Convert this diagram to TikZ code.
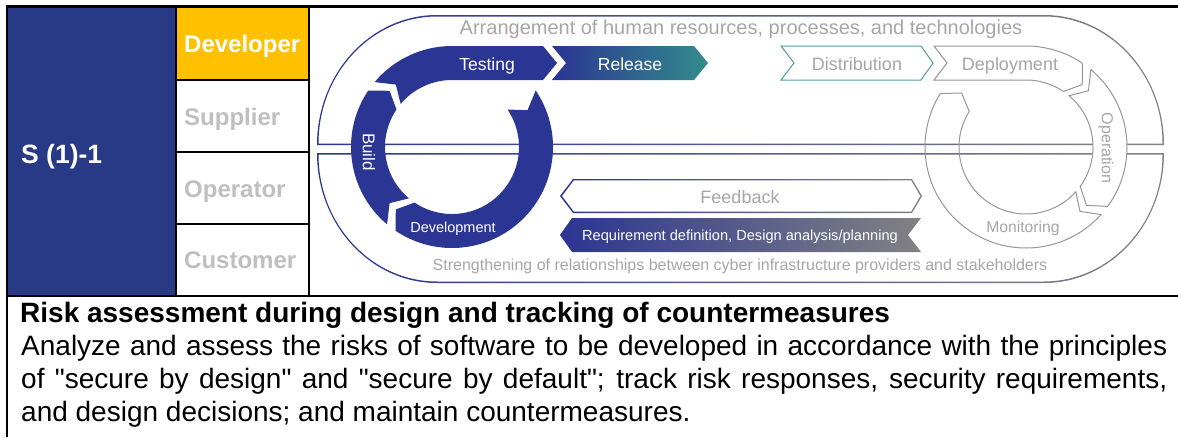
\documentclass[tikz,border=0pt]{standalone}
\usepackage{fontspec}
\setmainfont{Liberation Sans}[Ligatures=TeXOff]
\definecolor{cellnavy}{RGB}{40,57,133}
\definecolor{roleyellow}{RGB}{255,192,0}
\definecolor{ringblue}{RGB}{43,53,147}
\definecolor{ringteal}{RGB}{50,140,140}
\definecolor{ringgrey}{RGB}{130,130,130}
\definecolor{labelgrey}{RGB}{166,166,166}
\definecolor{rolegrey}{RGB}{191,191,191}
\definecolor{outlinegrey}{RGB}{150,150,150}

\begin{document}
\begin{tikzpicture}[x=1pt,y=-1pt,
    every node/.style={inner sep=0pt},
    tableline/.style={line width=2.6pt},
    rolelabel/.style={anchor=base west,font=\fontsize{24}{28}\selectfont\bfseries,text=rolegrey},
    greyband/.style={draw=outlinegrey,line width=1pt},
    bandtext/.style={anchor=base,font=\fontsize{17.5}{20}\selectfont,text=white},
    greytext/.style={anchor=base,font=\fontsize{18}{20}\selectfont,text=labelgrey}]
  \useasboundingbox (0,0) rectangle (1178,437);

  % table cells
  \fill[cellnavy] (7,7) rectangle (176,296);
  \fill[roleyellow] (176,7) rectangle (309,80);
  \node[anchor=base west,text=white,font=\fontsize{26.5}{30}\selectfont\bfseries] (sid) at (21,163) {S (1)-1};
  \node[rolelabel,text=white] (developer) at (184,52) {Developer};
  \node[rolelabel] (supplier) at (184,125) {Supplier};
  \node[rolelabel] (operator) at (184,197) {Operator};
  \node[rolelabel] (customer) at (184,268) {Customer};

  % outer loop, upper and lower halves
  \shade[even odd rule,left color=ringblue,middle color=ringteal,right color=ringgrey]
    (317,145) arc[start angle=180,end angle=270,x radius=120,y radius=130] -- (1044,15)
      arc[start angle=270,end angle=360,x radius=120,y radius=130] -- cycle
    (318.5,143.5) arc[start angle=180,end angle=270,x radius=118.5,y radius=127] -- (1044,16.5)
      arc[start angle=270,end angle=360,x radius=118.5,y radius=127] -- cycle;
  \shade[even odd rule,left color=ringblue,middle color=ringteal,right color=ringgrey]
    (317,153) arc[start angle=180,end angle=90,x radius=120,y radius=130] -- (1044,283)
      arc[start angle=90,end angle=0,x radius=120,y radius=130] -- cycle
    (318.5,154.5) arc[start angle=180,end angle=90,x radius=118.5,y radius=127] -- (1044,281.5)
      arc[start angle=90,end angle=0,x radius=118.5,y radius=127] -- cycle;
  \node[greytext,font=\fontsize{20}{22}\selectfont] (arrangement) at (741,34) {Arrangement of human resources, processes, and technologies};
  \node[greytext,font=\fontsize{16}{18}\selectfont] (strengthening) at (740,270) {Strengthening of relationships between cyber infrastructure providers and stakeholders};

  % development cycle
  \begin{scope}[shift={(452,147)}]
    \fill[ringblue] (-34:101) arc[start angle=-34,end angle=124,radius=101] -- (132:84)
      -- (124:67) arc[start angle=124,end angle=-34,radius=67] -- (-26:84) -- cycle;
    \fill[ringblue] (130:101) arc[start angle=130,end angle=214,radius=101] -- (222:84)
      -- (214:67) arc[start angle=214,end angle=130,radius=67] -- (138:84) -- cycle;
    \fill[ringblue] (220:101) arc[start angle=220,end angle=270,radius=101] -- (91,-101)
      -- (105,-84) -- (91,-67) -- (0,-67) arc[start angle=270,end angle=220,radius=67] -- (228:84) -- cycle;
  \end{scope}
  \shade[left color=ringblue,right color=ringteal] (552,46) -- (694,46) -- (708,63) -- (694,80) -- (552,80) -- (566,63) -- cycle;
  \node[bandtext] (testing) at (487,70) {Testing};
  \node[bandtext] (release) at (630,70) {Release};
  \node[bandtext,rotate=-90,anchor=center,font=\fontsize{17}{18}\selectfont] (build) at (369,152) {Build};
  \node[bandtext,font=\fontsize{14.5}{16}\selectfont] (development) at (453,232) {Development};

  % operation cycle
  \draw[draw=ringteal!85,line width=1pt,fill=white] (781,46) -- (921,46) -- (933,63) -- (921,80) -- (781,80) -- (794,63) -- cycle;
  \begin{scope}[shift={(1026,147)}]
    \draw[greyband,fill=white] (-92,-101) -- (0,-101) arc[start angle=270,end angle=304,radius=101] -- (312:84)
      -- (304:67) arc[start angle=304,end angle=270,radius=67] -- (-92,-67) -- (-79,-84) -- cycle;
    \draw[greyband,fill=white] (310:101) arc[start angle=310,end angle=396,radius=101] -- (404:84)
      -- (396:67) arc[start angle=396,end angle=310,radius=67] -- (318:84) -- cycle;
    \draw[greyband] (42:101) arc[start angle=42,end angle=212,radius=101] -- (220:84)
      -- (212:67) arc[start angle=212,end angle=42,radius=67] -- (50:84) -- cycle;
  \end{scope}
  \node[greytext] (distribution) at (857,70) {Distribution};
  \node[greytext] (deployment) at (1010,70) {Deployment};
  \node[greytext,rotate=-90,anchor=center,font=\fontsize{16}{18}\selectfont] (operation) at (1106,148) {Operation};
  \node[greytext,font=\fontsize{15.7}{18}\selectfont] (monitoring) at (1023,232) {Monitoring};

  % feedback and requirement arrows
  \shade[even odd rule,left color=ringblue,right color=ringgrey]
    (560,196) -- (573,179) -- (912,179) -- (922,196) -- (912,213) -- (573,213) -- cycle
    (561.9,196) -- (573.8,180.3) -- (911.3,180.3) -- (920.4,196) -- (911.3,211.7) -- (573.8,211.7) -- cycle;
  \shade[left color=ringblue,middle color=ringteal,right color=ringgrey]
    (560,235) -- (572,218) -- (921,218) -- (908,235) -- (921,252) -- (572,252) -- cycle;
  \node[greytext] (feedback) at (740,203) {Feedback};
  \node[bandtext,font=\fontsize{14.6}{16}\selectfont] (requirement) at (740,240) {Requirement definition, Design analysis/planning};

  % table lines
  \draw[tableline] (7,437) -- (7,6.3) -- (1178,6.3);
  \draw[tableline] (7,296) -- (1178,296);
  \draw[tableline] (176,6.3) -- (176,296);
  \draw[tableline] (309,6.3) -- (309,296);
  \foreach \y in {80,152,224}
    \draw[tableline] (176,\y) -- (309,\y);

  % description
  \node[anchor=base west,font=\fontsize{28}{33}\selectfont\bfseries] (risktitle) at (20,322) {Risk assessment during design and tracking of countermeasures};
  \node[anchor=base west,text width=1146pt,align=justify,font=\fontsize{28}{33}\selectfont] (riskbody) at (21,355)
    {Analyze and assess the risks of software to be developed in accordance with the principles\linebreak
     of "secure by design" and "secure by default"; track risk responses, security requirements,\linebreak
     and design decisions; and maintain countermeasures.};
\end{tikzpicture}
\end{document}
